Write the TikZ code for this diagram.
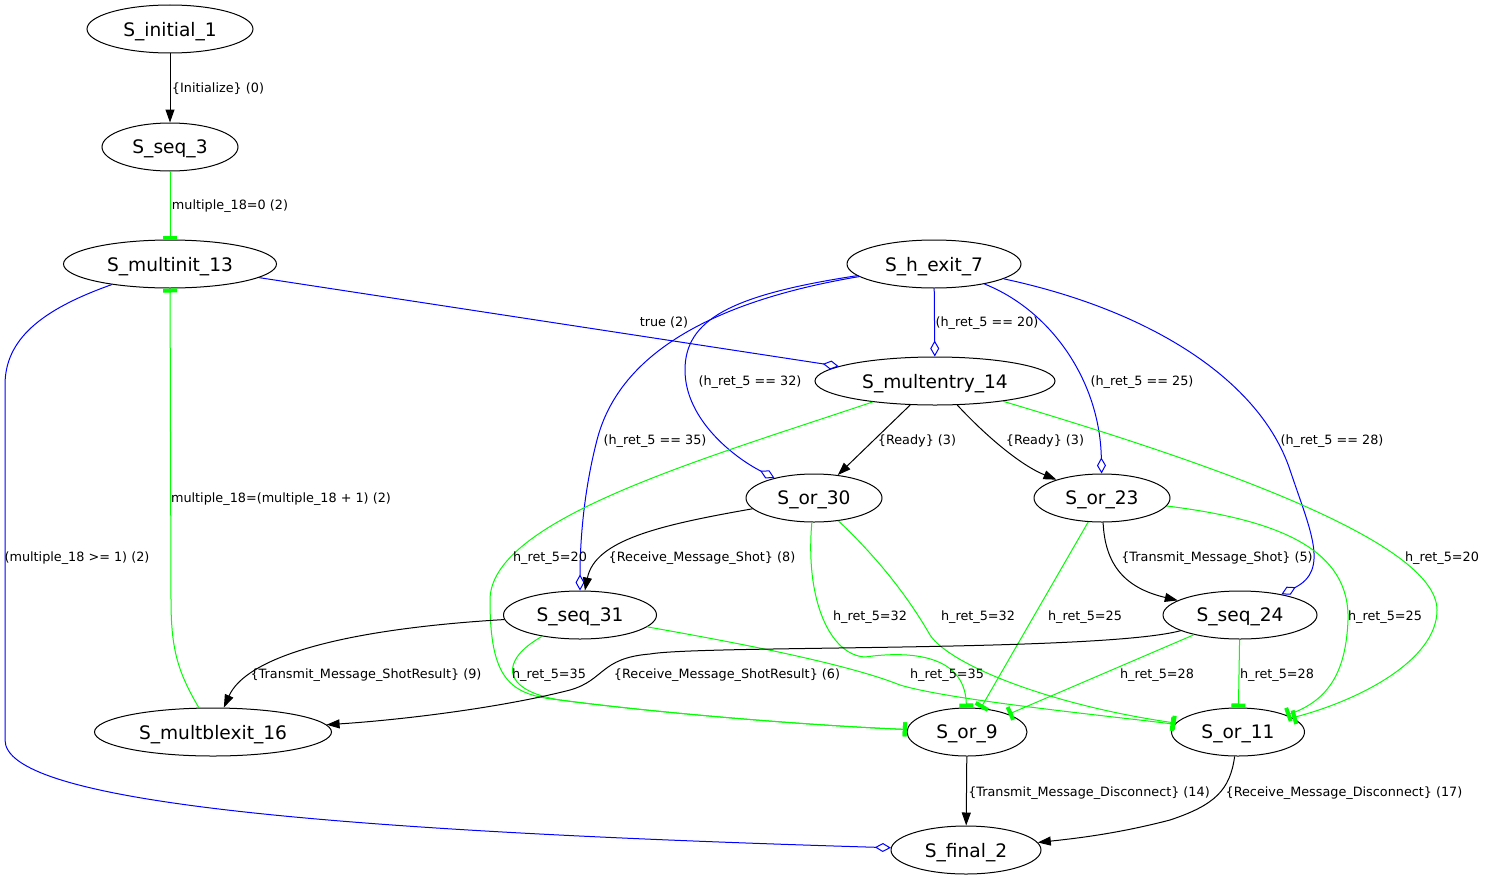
\documentclass[tikz,border=0pt]{standalone}
\usepackage{fontspec}
\setmainfont{DejaVu Sans}
\usetikzlibrary{arrows.meta, shapes.geometric}
\definecolor{fsmgreen}{HTML}{00FF00}
\definecolor{fsmblue}{HTML}{0000FF}

\begin{document}
\begin{tikzpicture}[
  x=1pt, y=-1pt,
  every node/.style={font=\fontsize{12.8}{15}\selectfont},
  state/.style={ellipse, draw, line width=1pt, minimum height=48pt, inner sep=0pt, text depth=0pt, font=\fontsize{18.6}{22}\selectfont},
  trans/.style={-{Triangle[length=13pt, width=9pt]}, line width=1pt},
  guard/.style={-{Rectangle[length=4pt, width=14pt]}, fsmgreen, line width=1pt},
  cond/.style={-{Diamond[open, length=16pt, width=9pt]}, fsmblue, line width=1pt},
  lbl/.style={inner sep=0pt, text depth=0pt},
]
\useasboundingbox (0,0) rectangle (1487,883);

% States
\node[state, minimum width=166pt] (init1) at (170,29) {S\_initial\_1};
\node[state, minimum width=136pt] (seq3) at (170,147) {S\_seq\_3};
\node[state, minimum width=213pt] (multinit13) at (170,264) {S\_multinit\_13};
\node[state, minimum width=174pt] (hexit7) at (934,264) {S\_h\_exit\_7};
\node[state, minimum width=240pt] (multentry14) at (935,381) {S\_multentry\_14};
\node[state, minimum width=136pt] (or30) at (814,498) {S\_or\_30};
\node[state, minimum width=136pt] (or23) at (1102,498) {S\_or\_23};
\node[state, minimum width=153pt] (seq31) at (580,615) {S\_seq\_31};
\node[state, minimum width=154pt] (seq24) at (1240,615) {S\_seq\_24};
\node[state, minimum width=237pt] (multblexit16) at (213,732) {S\_multblexit\_16};
\node[state, minimum width=120pt] (or9) at (967,732) {S\_or\_9};
\node[state, minimum width=133pt] (or11) at (1238,732) {S\_or\_11};
\node[state, minimum width=150pt] (final2) at (966,850) {S\_final\_2};

% Transitions
\draw[trans] (init1) -- (seq3);
\draw[guard] (seq3) -- (multinit13);
\draw[guard] (multblexit16) .. controls (178,672) and (171,650) .. (171,600) -- (multinit13);
\draw[cond] (multinit13) .. controls (40,310) and (5,340) .. (5,385) -- (5,740) .. controls (5,800) and (300,830) .. (final2);
\draw[cond] (multinit13) -- (multentry14);
\draw[cond] (hexit7) -- (multentry14);
\draw[cond] (hexit7) .. controls (730,295) and (685,320) .. (685,370) .. controls (685,420) and (735,458) .. (or30);
\draw[cond] (hexit7) .. controls (720,300) and (620,350) .. (597,440) .. controls (584,490) and (580,540) .. (seq31);
\draw[cond] (hexit7) .. controls (1050,310) and (1100,380) .. (or23);
\draw[cond] (hexit7) .. controls (1150,310) and (1260,380) .. (1290,470) .. controls (1310,530) and (1330,570) .. (seq24);
\draw[trans] (multentry14) -- (or30);
\draw[trans] (multentry14) .. controls (985,435) and (1020,465) .. (or23);
\draw[guard] (multentry14) .. controls (700,460) and (490,520) .. (490,600) .. controls (490,680) and (510,695) .. (560,700) .. controls (650,712) and (800,725) .. (or9);
\draw[guard] (multentry14) .. controls (1200,460) and (1437,540) .. (1437,610) .. controls (1437,660) and (1360,700) .. (or11);
\draw[trans] (or30) .. controls (660,525) and (595,540) .. (seq31);
\draw[guard] (or30) .. controls (805,600) and (830,655) .. (865,657) .. controls (900,652) and (965,650) .. (or9);
\draw[guard] (or30) .. controls (880,560) and (910,600) .. (930,635) .. controls (950,665) and (1050,705) .. (or11);
\draw[trans] (or23) .. controls (1105,565) and (1125,588) .. (seq24);
\draw[guard] (or23) -- (or9);
\draw[guard] (or23) .. controls (1280,520) and (1350,550) .. (1348,620) .. controls (1346,670) and (1330,700) .. (or11);
\draw[trans] (seq31) .. controls (330,630) and (245,660) .. (multblexit16);
\draw[guard] (seq31) .. controls (500,660) and (500,690) .. (560,700) .. controls (650,712) and (800,725) .. (or9);
\draw[guard] (seq31) .. controls (750,645) and (850,665) .. (900,685) .. controls (950,700) and (1100,715) .. (or11);
\draw[trans] (seq24) .. controls (1100,652) and (700,645) .. (650,654) .. controls (600,658) and (605,680) .. (570,690) .. controls (500,708) and (400,720) .. (multblexit16);
\draw[guard] (seq24) -- (or9);
\draw[guard] (seq24) -- (or11);
\draw[trans] (or9) -- (final2);
\draw[trans] (or11) .. controls (1230,790) and (1215,805) .. (1170,820) .. controls (1120,833) and (1080,838) .. (final2);

% Transition labels
\node[lbl] (l0) at (218,88) {\{Initialize\} (0)};
\node[lbl] (l1) at (230,205) {multiple\_18=0 (2)};
\node[lbl] (l2) at (281,498) {multiple\_18=(multiple\_18 + 1) (2)};
\node[lbl] (l3) at (77,557) {(multiple\_18 >= 1) (2)};
\node[lbl] (l4) at (664,322) {true (2)};
\node[lbl] (l5) at (987,322) {(h\_ret\_5 == 20)};
\node[lbl] (l6) at (750,381) {(h\_ret\_5 == 32)};
\node[lbl] (l7) at (655,440) {(h\_ret\_5 == 35)};
\node[lbl] (l8) at (1142,381) {(h\_ret\_5 == 25)};
\node[lbl] (l9) at (1332,440) {(h\_ret\_5 == 28)};
\node[lbl] (l10) at (917,440) {\{Ready\} (3)};
\node[lbl] (l11) at (1045,440) {\{Ready\} (3)};
\node[lbl] (l12) at (550,557) {h\_ret\_5=20};
\node[lbl] (l13) at (1442,557) {h\_ret\_5=20};
\node[lbl] (l14) at (702,557) {\{Receive\_Message\_Shot\} (8)};
\node[lbl] (l15) at (1217,557) {\{Transmit\_Message\_Shot\} (5)};
\node[lbl] (l16) at (870,616) {h\_ret\_5=32};
\node[lbl] (l17) at (978,616) {h\_ret\_5=32};
\node[lbl] (l18) at (1085,616) {h\_ret\_5=25};
\node[lbl] (l19) at (1385,616) {h\_ret\_5=25};
\node[lbl] (l20) at (366,674) {\{Transmit\_Message\_ShotResult\} (9)};
\node[lbl] (l21) at (549,674) {h\_ret\_5=35};
\node[lbl] (l22) at (727,674) {\{Receive\_Message\_ShotResult\} (6)};
\node[lbl] (l23) at (947,674) {h\_ret\_5=35};
\node[lbl] (l24) at (1157,674) {h\_ret\_5=28};
\node[lbl] (l25) at (1277,674) {h\_ret\_5=28};
\node[lbl] (l26) at (1089,792) {\{Transmit\_Message\_Disconnect\} (14)};
\node[lbl] (l27) at (1344,792) {\{Receive\_Message\_Disconnect\} (17)};

\end{tikzpicture}
\end{document}
